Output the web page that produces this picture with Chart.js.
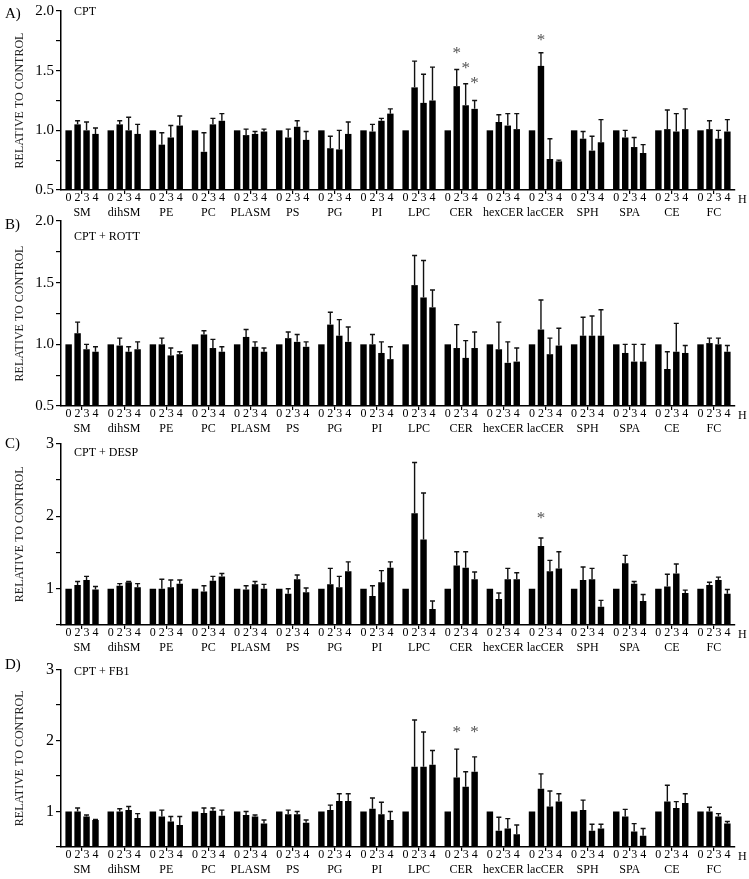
<!DOCTYPE html>
<html>
<head>
<meta charset="utf-8">
<script src="https://cdn.jsdelivr.net/npm/chart.js@4.4.0/dist/chart.umd.min.js"></script>
<style>
  html, body { margin: 0; padding: 0; background: #fff; }
  body { width: 749px; height: 879px; position: relative; overflow: hidden; }
  canvas { position: absolute; left: 0; }
</style>
</head>
<body>
<canvas id="chartA" width="749" height="220" style="top:0px"></canvas>
<canvas id="chartB" width="749" height="226" style="top:210px"></canvas>
<canvas id="chartC" width="749" height="223" style="top:432px"></canvas>
<canvas id="chartD" width="749" height="219" style="top:658px"></canvas>
<script>
const groups = ['SM', 'dihSM', 'PE', 'PC', 'PLASM', 'PS', 'PG', 'PI', 'LPC', 'CER', 'hexCER', 'lacCER', 'SPH', 'SPA', 'CE', 'FC'];
const hours = ['0', '2', '3', '4'];

// mean relative to control, one row per lipid class: [0h, 2h, 3h, 4h]
const meanA = [
  [1, 1.05, 1.00, 0.97], [1, 1.05, 1.00, 0.97], [1, 0.88, 0.94, 1.04], [1, 0.82, 1.05, 1.08],
  [1, 0.96, 0.97, 0.99], [1, 0.94, 1.03, 0.92], [1, 0.85, 0.84, 0.97], [1, 0.99, 1.08, 1.14],
  [1, 1.36, 1.23, 1.25], [1, 1.37, 1.21, 1.18], [1, 1.07, 1.04, 1.01], [1, 1.54, 0.76, 0.74],
  [1, 0.93, 0.83, 0.90], [1, 0.94, 0.86, 0.81], [1, 1.01, 0.99, 1.01], [1, 1.01, 0.93, 0.99]
];
const errA = [
  [0, 0.03, 0.07, 0.05], [0, 0.03, 0.11, 0.08], [0, 0.10, 0.10, 0.08], [0, 0.16, 0.05, 0.06],
  [0, 0.05, 0.02, 0.02], [0, 0.07, 0.05, 0.07], [0, 0.10, 0.16, 0.10], [0, 0.06, 0.02, 0.04],
  [0, 0.22, 0.24, 0.28], [0, 0.14, 0.18, 0.07], [0, 0.06, 0.10, 0.13], [0, 0.11, 0.17, 0.01],
  [0, 0.06, 0.12, 0.19], [0, 0.06, 0.08, 0.07], [0, 0.16, 0.15, 0.17], [0, 0.07, 0.07, 0.10]
];
const meanB = [
  [1, 1.09, 0.96, 0.94], [1, 0.99, 0.94, 0.96], [1, 1.00, 0.91, 0.92], [1, 1.08, 0.97, 0.94],
  [1, 1.06, 0.98, 0.94], [1, 1.05, 1.02, 0.98], [1, 1.16, 1.07, 1.02], [1, 1.00, 0.93, 0.88],
  [1, 1.48, 1.38, 1.30], [1, 0.97, 0.89, 0.97], [1, 0.96, 0.85, 0.86], [1, 1.12, 0.92, 0.99],
  [1, 1.07, 1.07, 1.07], [1, 0.93, 0.86, 0.86], [1, 0.80, 0.94, 0.93], [1, 1.01, 1.00, 0.94]
];
const errB = [
  [0, 0.09, 0.04, 0.04], [0, 0.06, 0.04, 0.06], [0, 0.05, 0.06, 0.02], [0, 0.03, 0.07, 0.04],
  [0, 0.06, 0.04, 0.03], [0, 0.05, 0.06, 0.04], [0, 0.10, 0.13, 0.12], [0, 0.08, 0.09, 0.10],
  [0, 0.24, 0.30, 0.14], [0, 0.19, 0.14, 0.13], [0, 0.22, 0.17, 0.11], [0, 0.24, 0.13, 0.14],
  [0, 0.15, 0.16, 0.21], [0, 0.07, 0.14, 0.14], [0, 0.14, 0.23, 0.06], [0, 0.04, 0.05, 0.05]
];
const meanC = [
  [1, 1.05, 1.12, 0.99], [1, 1.04, 1.09, 1.02], [1, 1.00, 1.02, 1.07], [1, 0.96, 1.11, 1.17],
  [1, 0.99, 1.06, 1.00], [1, 0.93, 1.13, 0.95], [1, 1.06, 1.02, 1.24], [1, 0.90, 1.09, 1.29],
  [1, 2.04, 1.68, 0.72], [1, 1.32, 1.29, 1.13], [1, 0.86, 1.13, 1.13], [1, 1.59, 1.24, 1.28],
  [1, 1.12, 1.13, 0.75], [1, 1.35, 1.07, 0.83], [1, 1.03, 1.21, 0.94], [1, 1.05, 1.12, 0.93]
];
const errC = [
  [0, 0.05, 0.05, 0.04], [0, 0.03, 0.01, 0.05], [0, 0.13, 0.10, 0.05], [0, 0.08, 0.06, 0.04],
  [0, 0.05, 0.04, 0.06], [0, 0.07, 0.06, 0.06], [0, 0.22, 0.15, 0.13], [0, 0.14, 0.16, 0.08],
  [0, 0.70, 0.64, 0.11], [0, 0.19, 0.22, 0.10], [0, 0.08, 0.15, 0.09], [0, 0.11, 0.15, 0.23],
  [0, 0.18, 0.15, 0.09], [0, 0.11, 0.03, 0.09], [0, 0.17, 0.13, 0.04], [0, 0.04, 0.04, 0.06]
];
const meanD = [
  [1, 1.00, 0.93, 0.88], [1, 1.00, 1.02, 0.91], [1, 0.93, 0.86, 0.81], [1, 0.98, 1.01, 0.94],
  [1, 0.95, 0.93, 0.83], [1, 0.96, 0.96, 0.84], [1, 1.02, 1.15, 1.15], [1, 1.04, 0.96, 0.88],
  [1, 1.63, 1.63, 1.66], [1, 1.48, 1.35, 1.56], [1, 0.73, 0.76, 0.68], [1, 1.32, 1.07, 1.14],
  [1, 1.02, 0.73, 0.76], [1, 0.93, 0.72, 0.66], [1, 1.14, 1.05, 1.12], [1, 1.00, 0.93, 0.83]
];
const errD = [
  [0, 0.05, 0.02, 0.01], [0, 0.04, 0.05, 0.06], [0, 0.09, 0.07, 0.12], [0, 0.07, 0.04, 0.08],
  [0, 0.05, 0.02, 0.05], [0, 0.06, 0.04, 0.04], [0, 0.07, 0.10, 0.10], [0, 0.15, 0.17, 0.12],
  [0, 0.66, 0.49, 0.20], [0, 0.40, 0.21, 0.21], [0, 0.19, 0.14, 0.13], [0, 0.21, 0.22, 0.11],
  [0, 0.14, 0.09, 0.06], [0, 0.10, 0.11, 0.10], [0, 0.23, 0.09, 0.13], [0, 0.06, 0.04, 0.03]
];

// significance marks: [group index, hour index, value at which the * sits]
const starsA = [[9, 1, 1.67], [9, 2, 1.54], [9, 3, 1.42], [11, 1, 1.78]];
const starsB = [];
const starsC = [[11, 1, 2.01]];
const starsD = [[9, 1, 2.16], [9, 3, 2.16]];

const SERIF = '"Liberation Serif", "Times New Roman", serif';

const extrasPlugin = {
  id: 'extras',
  afterDatasetsDraw(chart) {
    const ctx = chart.ctx;
    const yScale = chart.scales.y;
    const area = chart.chartArea;
    const o = chart.options.plugins.extras;
    ctx.save();
    // error bars (upper only)
    ctx.strokeStyle = '#111';
    ctx.lineWidth = 1.4;
    chart.data.datasets.forEach((ds, di) => {
      const meta = chart.getDatasetMeta(di);
      meta.data.forEach((bar, i) => {
        const e = ds.errors[i];
        if (!e) return;
        const top = yScale.getPixelForValue(ds.data[i] + e);
        ctx.beginPath();
        ctx.moveTo(bar.x, bar.y);
        ctx.lineTo(bar.x, top);
        ctx.moveTo(bar.x - 2.5, top);
        ctx.lineTo(bar.x + 2.5, top);
        ctx.stroke();
      });
    });
    // asterisks
    ctx.fillStyle = '#555';
    ctx.font = '17px ' + SERIF;
    ctx.textAlign = 'center';
    ctx.textBaseline = 'middle';
    o.stars.forEach(([g, h, v]) => {
      const bar = chart.getDatasetMeta(h).data[g];
      ctx.fillText('*', bar.x, yScale.getPixelForValue(v) + 3);
    });
    // panel letter, treatment name, hour unit
    ctx.fillStyle = '#000';
    ctx.textAlign = 'left';
    ctx.font = '15px ' + SERIF;
    ctx.fillText(o.letter, 5, area.top + o.letterDy);
    ctx.font = '12px ' + SERIF;
    ctx.fillText(o.title, 74, area.top + o.titleDy);
    ctx.fillText('H', area.right + 3, area.bottom + 10);
    ctx.restore();
  }
};

const makePanel = (id, means, errs, stars, cfg) => {
  const datasets = hours.map((h, hi) => ({
    label: h,
    data: means.map((row) => row[hi]),
    errors: errs.map((row) => row[hi]),
    backgroundColor: '#000',
    borderWidth: 0,
    base: cfg.min,
    categoryPercentage: 0.85,
    barPercentage: 0.72
  }));

  const config = {
    type: 'bar',
    data: { labels: groups, datasets },
    options: {
      responsive: false,
      animation: false,
      layout: { padding: { top: 11, right: 14, left: 0, bottom: 0 } },
      plugins: {
        legend: { display: false },
        tooltip: { enabled: false },
        extras: { stars, letter: cfg.letter, title: cfg.title, letterDy: cfg.letterDy, titleDy: cfg.titleDy }
      },
      scales: {
        x: {
          ticks: {
            autoSkip: false,
            maxRotation: 0,
            color: '#000',
            padding: -3,
            font: { family: SERIF, size: 12, lineHeight: 1.2 },
            callback: (v, i) => [hours.join(' '), groups[i]]
          },
          grid: { drawOnChartArea: false, drawTicks: true, tickLength: 4, offset: false, color: '#000', lineWidth: 1.2 },
          border: { display: true, color: '#000', width: 1.5 },
          afterFit: (s) => { s.height = 30; }
        },
        y: {
          min: cfg.min,
          max: cfg.max,
          ticks: {
            stepSize: cfg.step,
            autoSkip: false,
            color: '#000',
            padding: 2,
            font: { family: SERIF, size: cfg.tickSize },
            callback: cfg.tickLabel
          },
          grid: { drawOnChartArea: false, drawTicks: true, tickLength: 5, color: '#000', lineWidth: 1.2 },
          border: { display: true, color: '#000', width: 1.5 },
          title: {
            display: true,
            text: 'RELATIVE TO CONTROL',
            color: '#222',
            font: { family: SERIF, size: 12 },
            padding: { top: 13, bottom: 0 }
          },
          afterFit: (s) => { s.width = 61; }
        }
      }
    },
    plugins: [extrasPlugin]
  };
  return new Chart(document.getElementById(id), config);
};

const halfLabel = (v) => (Math.abs(v * 2 - Math.round(v * 2)) < 1e-6 ? v.toFixed(1) : '');
const wholeLabel = (v) => (Math.abs(v - Math.round(v)) < 1e-6 ? String(Math.round(v)) : '');

makePanel('chartA', meanA, errA, starsA, { min: 0.5, max: 2.0, step: 0.25, tickSize: 15, tickLabel: halfLabel, letter: 'A)', title: 'CPT', letterDy: 3, titleDy: 1 });
makePanel('chartB', meanB, errB, starsB, { min: 0.5, max: 2.0, step: 0.25, tickSize: 15, tickLabel: halfLabel, letter: 'B)', title: 'CPT + ROTT', letterDy: 4, titleDy: 16 });
makePanel('chartC', meanC, errC, starsC, { min: 0.5, max: 3, step: 0.5, tickSize: 16, tickLabel: wholeLabel, letter: 'C)', title: 'CPT + DESP', letterDy: 0, titleDy: 9 });
makePanel('chartD', meanD, errD, starsD, { min: 0.5, max: 3, step: 0.5, tickSize: 16, tickLabel: wholeLabel, letter: 'D)', title: 'CPT + FB1', letterDy: -5, titleDy: 2 });
</script>
</body>
</html>
